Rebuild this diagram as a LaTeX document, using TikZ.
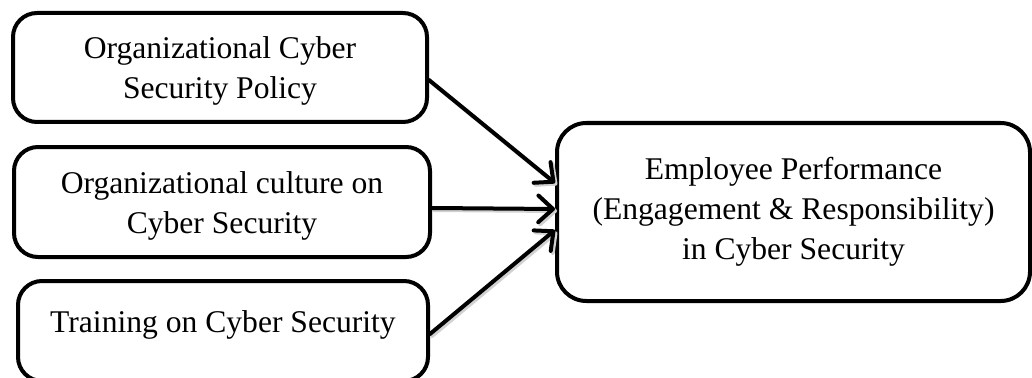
\documentclass[tikz,border=0pt]{standalone}
\usepackage{fontspec}
\setmainfont{Liberation Serif}
\usetikzlibrary{arrows.meta}
\newcommand{\lowerby}[1]{\rule{0pt}{#1}}
\begin{document}
\begin{tikzpicture}[x=0.75pt,y=-0.75pt,
  box/.style={draw=black, line width=3pt, rounded corners=18pt, align=center,
    inner sep=0pt, font=\fontsize{23.7}{30}\selectfont},
  bigbox/.style={box, rounded corners=22pt},
  link/.style={line width=3pt, line cap=round,
    -{Straight Barb[length=11pt,width=20pt,line cap=round,line join=round]}},
  linkshade/.style={link, draw=black!18, transform canvas={shift={(1.5pt,-1.5pt)}}},
]
\useasboundingbox (0,0) rectangle (1032,378);

% input factors (first line padded so the text sits a little low, as typed)
\node[box, minimum width=310.5pt, minimum height=81.75pt] (policy) at (220,67.5)
  {\lowerby{22pt}Organizational Cyber\\Security Policy};
\node[box, minimum width=312pt, minimum height=82.5pt] (culture) at (222,202)
  {\lowerby{22pt}Organizational culture on\\Cyber Security};
\node[box, minimum width=307.5pt, minimum height=75pt, text depth=14pt] (training) at (223,331)
  {Training on Cyber Security};

% outcome
\node[bigbox, minimum width=354.75pt, minimum height=133.5pt] (perf) at (793.5,212)
  {Employee Performance\\(Engagement \& Responsibility)\\in Cyber Security};

% soft shading under the arrows
\draw[linkshade] ([yshift=-9.4pt]policy.east) -- ([yshift=21.75pt]perf.west);
\draw[linkshade] ([yshift=-4.5pt]culture.east) -- ([yshift=2.25pt]perf.west);
\draw[linkshade] ([yshift=-2.25pt]training.east) -- ([yshift=-13.5pt]perf.west);

% arrows
\draw[link] ([yshift=-9.4pt]policy.east) -- ([yshift=21.75pt]perf.west);
\draw[link] ([yshift=-4.5pt]culture.east) -- ([yshift=2.25pt]perf.west);
\draw[link] ([yshift=-2.25pt]training.east) -- ([yshift=-13.5pt]perf.west);
\end{tikzpicture}
\end{document}
